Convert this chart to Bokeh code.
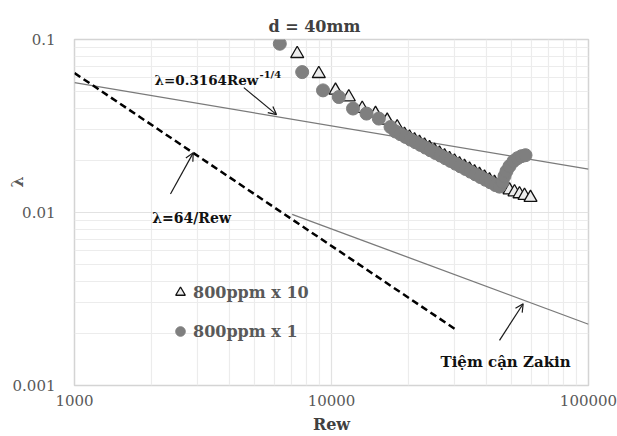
from bokeh.plotting import figure
from bokeh.models import (FixedTicker, CustomJSTickFormatter, Label, Arrow, OpenHead,
                          Legend, LegendItem, Range1d)
from bokeh.embed import file_html
from bokeh.resources import INLINE

# ---------------- data ----------------
X_TICKS = [1000, 10000, 100000]
Y_TICKS = [0.001, 0.01, 0.1]

# 800ppm x 10 (triangles)
RE_X10 = [7355, 8925, 10366, 11676, 13168, 14835, 16470, 18014,
          19231, 20117, 21038, 21998, 23013, 24066, 25166, 26318, 27532, 28789,
          30103, 31484, 32919, 34435, 36009, 37657, 39383, 41187, 43066, 45048,
          47120, 49275, 51535, 53891, 56364, 59480]
LAM_X10 = [0.0827, 0.0634, 0.0508, 0.0465, 0.0399, 0.0373, 0.0341, 0.0312,
           0.02822, 0.02722, 0.02626, 0.02533, 0.02444, 0.02361, 0.02279, 0.02197, 0.02120, 0.02046,
           0.01977, 0.01906, 0.01840, 0.01775, 0.01712, 0.01655, 0.01596, 0.01540, 0.01487, 0.01433,
           0.01383, 0.01348, 0.01313, 0.01279, 0.01253, 0.01220]

# 800ppm x 1 (circles)
RE_X1 = [6293, 7691, 9268, 10676, 12126, 13683, 15280, 16970,
         17742, 18556, 19409, 20299, 21228, 22199, 23217, 24281, 25394, 26556,
         27774, 29040, 30374, 31761, 33217, 34743, 36333, 37996, 39737, 41558, 43455,
         45048, 46280, 47120, 47966, 49275, 51076, 52932, 54864, 56868]
LAM_X1 = [0.0945, 0.0648, 0.0508, 0.0465, 0.0399, 0.0373, 0.0349, 0.0312,
          0.02938, 0.02835, 0.02735, 0.02638, 0.02548, 0.02459, 0.02372, 0.02288, 0.02207, 0.02133,
          0.02058, 0.01986, 0.01915, 0.01848, 0.01785, 0.01722, 0.01661, 0.01603, 0.01546, 0.01494, 0.01441,
          0.01411, 0.01498, 0.01623, 0.01734, 0.01853, 0.01981, 0.02061, 0.02116, 0.02144]

# reference lines (end points)
BLASIUS_RE = [1000, 100000]
BLASIUS_LAM = [0.0563, 0.0178]
LAMINAR_RE = [1000, 30400]
LAMINAR_LAM = [0.064, 0.00211]
ZAKIN_RE = [7030, 100000]
ZAKIN_LAM = [0.00976, 0.00226]

FONT = "DejaVu Serif"
NB = "\u00a0"

# ---------------- figure ----------------
p = figure(width=617, height=436, x_axis_type="log", y_axis_type="log",
           x_range=Range1d(1000, 100000), y_range=Range1d(0.001, 0.1),
           output_backend="svg", toolbar_location=None,
           min_border_left=74, min_border_right=29, min_border_top=39, min_border_bottom=50)
p.background_fill_color = "white"
p.border_fill_color = "white"
p.outline_line_color = "#d4d4d4"
p.outline_line_width = 1.5

p.title.text = "d = 40mm"
p.title.align = "left"
p.title.offset = 194
p.title.standoff = 8
p.title.text_font = FONT
p.title.text_font_style = "bold"
p.title.text_font_size = "16px"
p.title.text_color = "#404040"

x_minor = [k * 10 ** d for d in (3, 4) for k in range(2, 10)]
y_minor = [k * 10.0 ** d for d in (-3, -2) for k in range(2, 10)]
xt = FixedTicker(ticks=X_TICKS, minor_ticks=x_minor)
yt = FixedTicker(ticks=Y_TICKS, minor_ticks=y_minor)
p.xaxis.ticker = xt
p.yaxis.ticker = yt
p.xgrid.ticker = xt
p.ygrid.ticker = yt
fmt = CustomJSTickFormatter(code="return tick.toString();")
p.xaxis.formatter = fmt
p.yaxis.formatter = fmt

for g in (p.xgrid, p.ygrid):
    g.grid_line_color = "#e2e2e2"
    g.grid_line_width = 1.2
    g.minor_grid_line_color = "#ececec"
    g.minor_grid_line_width = 1.2

for ax in (p.xaxis, p.yaxis):
    ax.axis_line_color = None
    ax.major_tick_line_color = None
    ax.minor_tick_line_color = None
    ax.major_tick_in = 0
    ax.major_tick_out = 0
    ax.minor_tick_in = 0
    ax.minor_tick_out = 0
    ax.major_label_text_font = FONT
    ax.major_label_text_font_size = "15px"
    ax.major_label_text_color = "#595959"
    ax.axis_label_text_font = FONT
    ax.axis_label_text_font_style = "bold"
    ax.axis_label_text_font_size = "16px"
p.xaxis.major_label_standoff = 9
p.yaxis.major_label_standoff = 19

p.xaxis.axis_label = "Rew"
p.xaxis.axis_label_standoff = 6
p.xaxis.axis_label_text_color = "#404040"

p.yaxis.axis_label = NB * 11 + "λ"
p.yaxis.axis_label_standoff = -17
p.yaxis.axis_label_text_color = "#595959"

# lines
p.line(BLASIUS_RE, BLASIUS_LAM, line_color="#7a7a7a", line_width=1.3)
p.line(ZAKIN_RE, ZAKIN_LAM, line_color="#7a7a7a", line_width=1.3)
p.line(LAMINAR_RE, LAMINAR_LAM, line_color="black", line_width=2.5, line_dash="7 4")

# data
r_tri = p.scatter(RE_X10, LAM_X10, marker="triangle", size=13,
                  fill_color="#ececec", line_color="#111111", line_width=1.3)
r_cir = p.scatter(RE_X1, LAM_X1, marker="circle", size=13,
                  fill_color="#7f7f7f", line_color="#7f7f7f")

legend = Legend(items=[LegendItem(label="800ppm x 10", renderers=[r_tri]),
                       LegendItem(label="800ppm x 1", renderers=[r_cir])],
                location=(94, 42), orientation="vertical",
                glyph_width=24, glyph_height=24, label_height=24, spacing=15,
                padding=0, margin=0, label_standoff=1,
                background_fill_alpha=0, border_line_color=None,
                label_text_font=FONT, label_text_font_style="bold",
                label_text_font_size="16px", label_text_color="#595959")
p.add_layout(legend, "center")

# arrows
def arrow(xs, ys, xe, ye):
    p.add_layout(Arrow(end=OpenHead(size=8, line_width=1.2, line_color="#1a1a1a"),
                       x_start=xs, y_start=ys, x_end=xe, y_end=ye,
                       line_width=1.2, line_color="#1a1a1a"))

arrow(4559, 0.0527, 6109, 0.0368)
arrow(2363, 0.01279, 2897, 0.02212)
arrow(45048, 0.001825, 55700, 0.00297)

def label(x, y, text, size="14px", color="#111111", align="left", baseline="alphabetic"):
    p.add_layout(Label(x=x, y=y, text=text, text_font=FONT, text_font_style="bold",
                       text_font_size=size, text_color=color, text_align=align,
                       text_baseline=baseline))

label(2048, 0.0580, "λ=0.3164Rew", size="13.5px")
label(5246, 0.0628, "-1/4", size="10px")
label(2006, 0.00926, "λ=64/Rew")
label(26556, 0.001362, "Tiệm cận Zakin", size="15px")

open("out.html", "w").write(file_html(p, INLINE))
